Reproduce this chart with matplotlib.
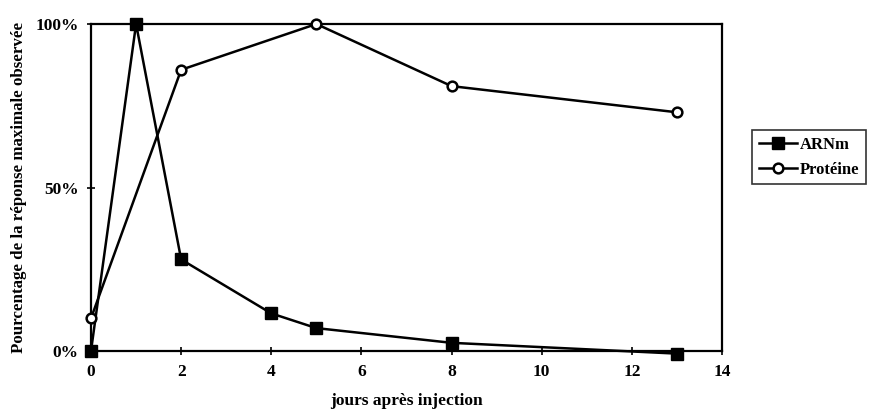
import matplotlib
matplotlib.use("Agg")
import matplotlib.pyplot as plt
from matplotlib.ticker import FuncFormatter

jours_arn = [0, 1, 2, 4, 5, 8, 13]
arnm = [0, 100, 28, 11.5, 7, 2.5, -0.8]
jours_prot = [0, 2, 5, 8, 13]
proteine = [10, 86, 100, 81, 73]
xticks = [0, 2, 4, 6, 8, 10, 12, 14]
yticks = [0, 50, 100]

plt.rcParams['font.family'] = ['Liberation Serif', 'DejaVu Serif']
plt.rcParams['font.weight'] = 'bold'

fig = plt.figure(figsize=(8.7, 4.16), dpi=100)
ax = fig.add_axes([91/870, 1-351/416, (722-91)/870, (351-24)/416])

ax.plot(jours_arn, arnm, color='black', lw=1.8, marker='s', markersize=9,
        markerfacecolor='black', markeredgecolor='black', label='ARNm', clip_on=False, zorder=3)
ax.plot(jours_prot, proteine, color='black', lw=1.8, marker='o', markersize=7,
        markerfacecolor='white', markeredgecolor='black', markeredgewidth=1.8,
        label='Protéine', clip_on=False, zorder=4)

ax.set_xlim(0, 14)
ax.set_ylim(0, 100)
ax.set_xticks(xticks)
ax.set_yticks(yticks)
ax.yaxis.set_major_formatter(FuncFormatter(lambda v, p: f"{int(v)}%"))
ax.tick_params(direction='inout', length=6, width=1.2, labelsize=12.5, pad=6)
for lab in ax.get_xticklabels() + ax.get_yticklabels():
    lab.set_fontweight('bold')
for s in ax.spines.values():
    s.set_linewidth(1.6)

ax.set_xlabel('jours après injection', fontsize=12.5, fontweight='bold', labelpad=10)
ax.set_ylabel('Pourcentage de la réponse maximale observée', fontsize=12.2, fontweight='bold', labelpad=6)

leg = ax.legend(loc='upper left', bbox_to_anchor=(752/870, 1-130/416), bbox_transform=fig.transFigure,
                frameon=True, fancybox=False, edgecolor='black', fontsize=12,
                handlelength=2.3, borderpad=0.4, labelspacing=0.55, handletextpad=0.15, borderaxespad=0)
leg.get_frame().set_linewidth(1.2)
for t in leg.get_texts():
    t.set_fontweight('bold')

fig.savefig('out.png', dpi=100)
